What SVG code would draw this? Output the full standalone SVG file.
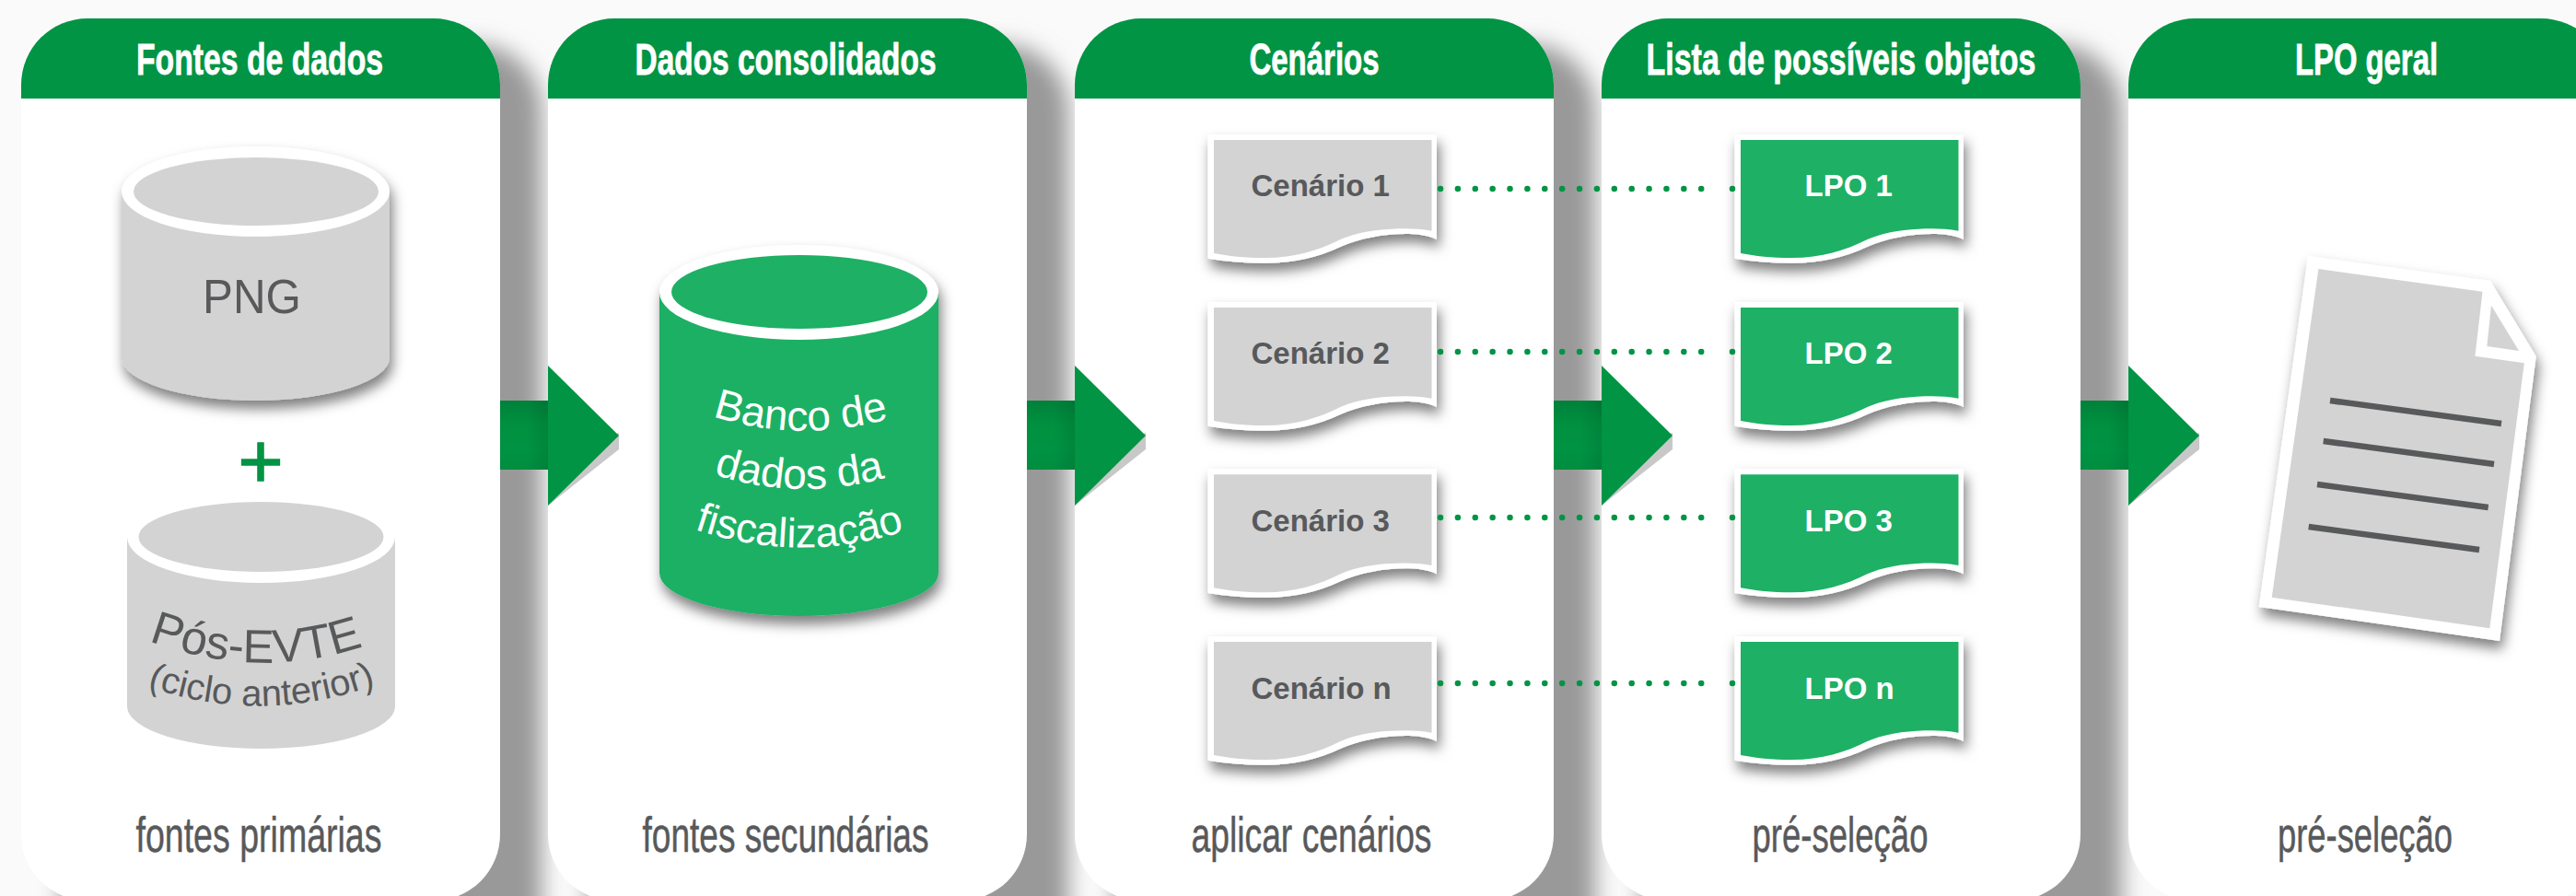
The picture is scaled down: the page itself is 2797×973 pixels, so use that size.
<svg xmlns="http://www.w3.org/2000/svg" width="2797" height="973" viewBox="0 0 2797 973">
<style>
.panel{fill:#fff}
.hdr{fill:#009444}
.pshadow{fill:#999;filter:url(#blur)}
.ht{font-family:"Liberation Sans Narrow","Liberation Sans",sans-serif;font-weight:700;font-size:48px;fill:#fff;stroke:#fff;stroke-width:.8px;text-anchor:middle}
.ft{font-family:"Liberation Sans Narrow","Liberation Sans",sans-serif;font-size:53px;fill:#58595b;stroke:#58595b;stroke-width:.5px;text-anchor:middle}
.cyl{font-family:"Liberation Sans",sans-serif;fill:#58595b}
.cylw{font-family:"Liberation Sans",sans-serif;font-size:46px;fill:#fff;text-anchor:middle}
.dt{font-family:"Liberation Sans",sans-serif;font-weight:700;font-size:33px;fill:#58595b}
.dw{fill:#fff}
.grey{fill:#d3d3d3}
.green{fill:#1eb065}
.shadowed{filter:url(#ds)}
.bar{fill:url(#barV)}
.barS{fill:url(#barH)}
.tri{fill:#009444}
.triS{fill:#c8c8c8}
.dots{fill:none;stroke:#009444;stroke-width:6.5;stroke-linecap:round;stroke-dasharray:0 18.88}
.dote{fill:none;stroke:#009444;stroke-width:6.5;stroke-linecap:round}
.ln{stroke:#58595b;stroke-width:6.5;fill:none}
</style>
<defs>
<filter id="blur" filterUnits="userSpaceOnUse" x="-100" y="-100" width="3100" height="1400"><feGaussianBlur stdDeviation="12"/></filter>
<filter id="ds" x="-20%" y="-20%" width="140%" height="140%"><feDropShadow dx="3" dy="9" stdDeviation="7" flood-color="#000" flood-opacity="0.5"/></filter>
<linearGradient id="barV" x1="0" y1="0" x2="0" y2="1"><stop offset="0" stop-color="#00813a"/><stop offset=".35" stop-color="#009040"/><stop offset=".7" stop-color="#009343"/><stop offset="1" stop-color="#008d3f"/></linearGradient>
<linearGradient id="barH" x1="0" y1="0" x2="1" y2="0"><stop offset=".55" stop-color="#000" stop-opacity="0"/><stop offset="1" stop-color="#000" stop-opacity=".09"/></linearGradient>
<path id="docO" d="M0,0H248.500V114C238,109 226,108 214.600,108C190,108 165,113 144,122C120,133 95,139.700 61.700,139.700C40,139.700 20,138 0,134.700Z"/>
<path id="docI" d="M6.500,6H243V104.700C233,103 224,102.300 214.600,102.300C190,102.300 165,105 144,114C120,126 95,134 61.700,134C40,134 22,132 6.500,129Z"/>
<path id="p1" d="M156,694Q280,742 400,700"/>
<path id="p2" d="M150,742Q283,792 418,740"/>
<path id="b1" d="M768,450Q868,484 971,453"/>
<path id="b2" d="M769,513Q868,547 967,517"/>
<path id="b3" d="M746,572Q868,616 990,574"/>
</defs>
<rect width="2797" height="973" fill="#fafafa"/>

<g id="panel-fontes">
<rect class="pshadow" x="68" y="48" width="520" height="1060" rx="72"/>
<rect class="panel" x="23" y="20" width="520" height="958" rx="72"/>
<path class="hdr" d="M23,107V92A72,72 0 0 1 95,20H471A72,72 0 0 1 543,92V107Z"/>
<text class="ht" x="282" y="81" textLength="268" lengthAdjust="spacingAndGlyphs">Fontes de dados</text>
<text class="ft" x="281" y="925" textLength="267" lengthAdjust="spacingAndGlyphs">fontes primárias</text>
</g>
<g id="panel-consolidados">
<rect class="pshadow" x="640" y="48" width="520" height="1060" rx="72"/>
<rect class="panel" x="595" y="20" width="520" height="958" rx="72"/>
<path class="hdr" d="M595,107V92A72,72 0 0 1 667,20H1043A72,72 0 0 1 1115,92V107Z"/>
<text class="ht" x="853" y="81" textLength="327" lengthAdjust="spacingAndGlyphs">Dados consolidados</text>
<text class="ft" x="853" y="925" textLength="311" lengthAdjust="spacingAndGlyphs">fontes secundárias</text>
</g>
<g id="panel-cenarios">
<rect class="pshadow" x="1212" y="48" width="520" height="1060" rx="72"/>
<rect class="panel" x="1167" y="20" width="520" height="958" rx="72"/>
<path class="hdr" d="M1167,107V92A72,72 0 0 1 1239,20H1615A72,72 0 0 1 1687,92V107Z"/>
<text class="ht" x="1427" y="81" textLength="141" lengthAdjust="spacingAndGlyphs">Cenários</text>
<text class="ft" x="1424" y="925" textLength="261" lengthAdjust="spacingAndGlyphs">aplicar cenários</text>
</g>
<g id="panel-lista">
<rect class="pshadow" x="1784" y="48" width="520" height="1060" rx="72"/>
<rect class="panel" x="1739" y="20" width="520" height="958" rx="72"/>
<path class="hdr" d="M1739,107V92A72,72 0 0 1 1811,20H2187A72,72 0 0 1 2259,92V107Z"/>
<text class="ht" x="1999" y="81" textLength="423" lengthAdjust="spacingAndGlyphs">Lista de possíveis objetos</text>
<text class="ft" x="1998" y="925" textLength="191" lengthAdjust="spacingAndGlyphs">pré-seleção</text>
</g>
<g id="panel-lpo-geral">
<rect class="panel" x="2311" y="20" width="520" height="958" rx="72"/>
<path class="hdr" d="M2311,107V92A72,72 0 0 1 2383,20H2759A72,72 0 0 1 2831,92V107Z"/>
<text class="ht" x="2569.500" y="81" textLength="155" lengthAdjust="spacingAndGlyphs">LPO geral</text>
<text class="ft" x="2568" y="925" textLength="190" lengthAdjust="spacingAndGlyphs">pré-seleção</text>
</g>

<g id="cyl-png">
<g class="shadowed">
<path class="grey" d="M132,208V388A145.500,47 0 0 0 423,388V208Z"/>
<ellipse class="dw" cx="277.500" cy="208" rx="145.500" ry="49"/>
</g>
<ellipse class="grey" cx="278" cy="208" rx="133" ry="37"/>
<text class="cyl" x="273.500" y="340" font-size="52" text-anchor="middle" textLength="107" lengthAdjust="spacingAndGlyphs">PNG</text>
</g>
<text id="plus" x="283" y="529" font-family="Liberation Sans, sans-serif" font-size="84" fill="#009444" stroke="#009444" stroke-width="1.500" text-anchor="middle">+</text>
<g id="cyl-pos-evte">
<path class="grey" d="M138,583V767A145.500,46 0 0 0 429,767V583Z"/>
<ellipse class="dw" cx="283.500" cy="583" rx="145.500" ry="50"/>
<ellipse class="grey" cx="283.500" cy="583" rx="133" ry="38"/>
<text class="cyl" font-size="51" text-anchor="middle"><textPath href="#p1" startOffset="50%">Pós-EVTE</textPath></text>
<text class="cyl" font-size="40" text-anchor="middle"><textPath href="#p2" startOffset="50%">(ciclo anterior)</textPath></text>
</g>
<g id="cyl-banco">
<g class="shadowed">
<path class="green" d="M716,317V622A151.500,47 0 0 0 1019,622V317Z"/>
<ellipse class="dw" cx="867.500" cy="317.500" rx="151.500" ry="51.500"/>
</g>
<ellipse class="green" cx="868" cy="317" rx="139" ry="40"/>
<text class="cylw"><textPath href="#b1" startOffset="50%">Banco de</textPath></text>
<text class="cylw"><textPath href="#b2" startOffset="50%">dados da</textPath></text>
<text class="cylw" style="font-size:45px"><textPath href="#b3" startOffset="50%">fiscalização</textPath></text>
</g>

<g id="doc-cenario-1" transform="translate(1311.500,146)"><use href="#docO" class="dw shadowed"/><use href="#docI" class="grey"/><text class="dt" x="47" y="67">Cenário 1</text></g>
<g id="doc-cenario-2" transform="translate(1311.500,328)"><use href="#docO" class="dw shadowed"/><use href="#docI" class="grey"/><text class="dt" x="47" y="67">Cenário 2</text></g>
<g id="doc-cenario-3" transform="translate(1311.500,509.300)"><use href="#docO" class="dw shadowed"/><use href="#docI" class="grey"/><text class="dt" x="47" y="68">Cenário 3</text></g>
<g id="doc-cenario-n" transform="translate(1311.500,691)"><use href="#docO" class="dw shadowed"/><use href="#docI" class="grey"/><text class="dt" x="47" y="68">Cenário n</text></g>
<g id="doc-lpo-1" transform="translate(1883.500,146)"><use href="#docO" class="dw shadowed"/><use href="#docI" class="green"/><text class="dt" style="fill:#fff" x="76" y="67">LPO 1</text></g>
<g id="doc-lpo-2" transform="translate(1883.500,328)"><use href="#docO" class="dw shadowed"/><use href="#docI" class="green"/><text class="dt" style="fill:#fff" x="76" y="67">LPO 2</text></g>
<g id="doc-lpo-3" transform="translate(1883.500,509.300)"><use href="#docO" class="dw shadowed"/><use href="#docI" class="green"/><text class="dt" style="fill:#fff" x="76" y="68">LPO 3</text></g>
<g id="doc-lpo-n" transform="translate(1883.500,691)"><use href="#docO" class="dw shadowed"/><use href="#docI" class="green"/><text class="dt" style="fill:#fff" x="76" y="68">LPO n</text></g>

<g id="doc-lpo-geral">
<path class="dw shadowed" d="M2506,278L2704,305L2753.700,387L2714,696L2452.700,659Z"/>
<path class="grey" d="M2517.400,292L2695.500,316.700L2687.400,386.700L2740.800,394.300L2703.300,682.300L2466.700,648.700Z"/>
<path class="grey" d="M2705,331.700L2735,381L2700.300,376Z"/>
<path class="ln" d="M2530,435L2716,460M2522.700,479L2708,504M2516,526L2701.700,551M2506.700,572L2692,597"/>
</g>

<g id="connectors">
<g id="arrow-1"><rect class="bar" x="543" y="435" width="52" height="75"/><rect class="barS" x="543" y="435" width="52" height="75"/><polygon class="triS" points="595,549 672,488 672,470 595,500"/><polygon class="tri" points="595,397 672,473 595,549"/></g>
<g id="arrow-2"><rect class="bar" x="1115" y="435" width="52" height="75"/><rect class="barS" x="1115" y="435" width="52" height="75"/><polygon class="triS" points="1167,549 1244,488 1244,470 1167,500"/><polygon class="tri" points="1167,397 1244,473 1167,549"/></g>
<g id="arrow-3"><rect class="bar" x="1687" y="435" width="52" height="75"/><rect class="barS" x="1687" y="435" width="52" height="75"/><polygon class="triS" points="1739,549 1816,488 1816,470 1739,500"/><polygon class="tri" points="1739,397 1816,473 1739,549"/></g>
<g id="arrow-4"><rect class="bar" x="2259" y="435" width="52" height="75"/><rect class="barS" x="2259" y="435" width="52" height="75"/><polygon class="triS" points="2311,549 2388,488 2388,470 2311,500"/><polygon class="tri" points="2311,397 2388,473 2311,549"/></g>
<path class="dots" d="M1564,205H1866M1564,382H1866M1564,562H1866M1564,742H1866"/>
<path class="dote" d="M1881,205h.01M1881,382h.01M1881,562h.01M1881,742h.01"/>
</g>
</svg>
